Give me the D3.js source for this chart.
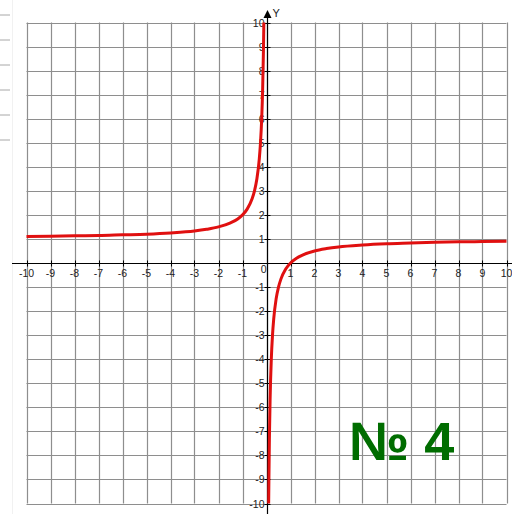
<!DOCTYPE html>
<html>
<head>
<meta charset="utf-8">
<script src="https://cdn.jsdelivr.net/npm/d3@7/dist/d3.min.js"></script>
<style>
  html, body { margin: 0; padding: 0; background: #fff; }
  svg { display: block; }
</style>
</head>
<body>
<svg id="chart" width="512" height="514"></svg>
<script>
// Axis ticks
const xTicks = [-10, -9, -8, -7, -6, -5, -4, -3, -2, -1, 1, 2, 3, 4, 5, 6, 7, 8, 9, 10];
const yTicks = [-10, -9, -8, -7, -6, -5, -4, -3, -2, -1, 1, 2, 3, 4, 5, 6, 7, 8, 9, 10];

// Left branch of the hyperbola (x < 0)
const leftX = [-10, -9, -8, -7, -6, -5, -4, -3, -2.5, -2, -1.5, -1.2, -1, -0.8, -0.6, -0.5, -0.4, -0.3, -0.25, -0.2, -0.16, -0.13, -0.11];
const leftY = [1.1, 1.11, 1.13, 1.14, 1.17, 1.2, 1.25, 1.33, 1.4, 1.5, 1.67, 1.83, 2, 2.25, 2.67, 3, 3.5, 4.33, 5, 6, 7.25, 8.7, 10];

// Right branch of the hyperbola (x > 0)
const rightX = [0.09, 0.1, 0.12, 0.15, 0.2, 0.25, 0.3, 0.4, 0.5, 0.6, 0.8, 1, 1.25, 1.5, 2, 2.5, 3, 4, 5, 6, 7, 8, 9, 10];
const rightY = [-10, -9, -7.33, -5.67, -4, -3, -2.33, -1.5, -1, -0.67, -0.25, 0, 0.2, 0.33, 0.5, 0.6, 0.67, 0.75, 0.8, 0.83, 0.86, 0.88, 0.89, 0.9];

// Page-edge marks along the left margin
const marginMarks = [15, 40, 65, 90, 115, 140];

const svg = d3.select("#chart");
const x = d3.scaleLinear().domain([-10, 10]).range([26.5, 506.5]);
const y = d3.scaleLinear().domain([-10, 10]).range([503.5, 22.5]);

const gridVals = d3.range(-10, 11);
const gridColor = "#8e8e8e";

// margin marks
svg.append("g").selectAll("line").data(marginMarks).join("line")
  .attr("x1", 0).attr("x2", 10)
  .attr("y1", d => d).attr("y2", d => d)
  .attr("stroke", "#a8a8a8").attr("stroke-width", 1);
svg.append("line")
  .attr("x1", 12.5).attr("x2", 12.5).attr("y1", 0).attr("y2", 514)
  .attr("stroke", "#f1f1f1").attr("stroke-width", 1);

// grid
const grid = svg.append("g");
grid.selectAll("line.v").data(gridVals).join("line")
  .attr("class", "v")
  .attr("x1", d => Math.round(x(d)) + 0.5).attr("x2", d => Math.round(x(d)) + 0.5)
  .attr("y1", y(10)).attr("y2", y(-10))
  .attr("stroke", gridColor).attr("stroke-width", 1.2);
grid.selectAll("line.h").data(gridVals).join("line")
  .attr("class", "h")
  .attr("y1", d => Math.round(y(d)) + 0.5).attr("y2", d => Math.round(y(d)) + 0.5)
  .attr("x1", x(-10)).attr("x2", x(10))
  .attr("stroke", gridColor).attr("stroke-width", 1.2);

// axes
const x0 = Math.round(x(0)) + 0.5;
const y0 = Math.round(y(0)) + 0.5;
svg.append("line").attr("x1", 12).attr("x2", 512).attr("y1", y0).attr("y2", y0)
  .attr("stroke", "#000").attr("stroke-width", 1.2);
svg.append("line").attr("x1", x0).attr("x2", x0).attr("y1", 15).attr("y2", 514)
  .attr("stroke", "#000").attr("stroke-width", 1.2);

// small ticks on the axes
svg.append("g").selectAll("line").data(xTicks).join("line")
  .attr("x1", d => Math.round(x(d)) + 0.5).attr("x2", d => Math.round(x(d)) + 0.5)
  .attr("y1", y0 - 3).attr("y2", y0 + 3)
  .attr("stroke", "#000").attr("stroke-width", 1);
svg.append("g").selectAll("line").data(yTicks).join("line")
  .attr("y1", d => Math.round(y(d)) + 0.5).attr("y2", d => Math.round(y(d)) + 0.5)
  .attr("x1", x0 - 3).attr("x2", x0 + 3)
  .attr("stroke", "#000").attr("stroke-width", 1);

// arrow and Y label
svg.append("path")
  .attr("d", `M${x0},10 L${x0 - 4},18 L${x0 + 4},18 Z`)
  .attr("fill", "#000");
svg.append("text").attr("x", x0 + 5).attr("y", 17)
  .attr("font-family", "Liberation Sans, Arial, sans-serif").attr("font-size", 11)
  .attr("fill", "#222").text("Y");

// tick labels
const labelFont = "Liberation Sans, Arial, sans-serif";
svg.append("g").selectAll("text").data(xTicks).join("text")
  .attr("x", d => x(d)).attr("y", y0 + 13)
  .attr("text-anchor", "middle")
  .attr("font-family", labelFont).attr("font-size", 10.5).attr("fill", "#222")
  .text(d => d);
svg.append("g").selectAll("text").data(yTicks).join("text")
  .attr("x", x0 - 3).attr("y", d => y(d) + 4)
  .attr("text-anchor", "end")
  .attr("font-family", labelFont).attr("font-size", 10.5).attr("fill", "#222")
  .text(d => d);
svg.append("text").attr("x", x0 - 1).attr("y", y0 + 9.5)
  .attr("text-anchor", "end")
  .attr("font-family", labelFont).attr("font-size", 10.5).attr("fill", "#222")
  .text("0");

// curve
const line = d3.line().x(d => x(d[0])).y(d => y(d[1])).curve(d3.curveMonotoneX);
const branches = [d3.zip(leftX, leftY), d3.zip(rightX, rightY)];
svg.append("g").selectAll("path").data(branches).join("path")
  .attr("d", line)
  .attr("fill", "none")
  .attr("stroke", "#e01010")
  .attr("stroke-width", 3)
  .attr("stroke-linejoin", "round");

// caption
svg.append("text")
  .attr("x", 349).attr("y", 460)
  .attr("font-family", "Liberation Sans, Arial, sans-serif")
  .attr("font-weight", "bold").attr("font-size", 54)
  .attr("fill", "#006d00")
  .text("№ 4");
</script>
</body>
</html>
